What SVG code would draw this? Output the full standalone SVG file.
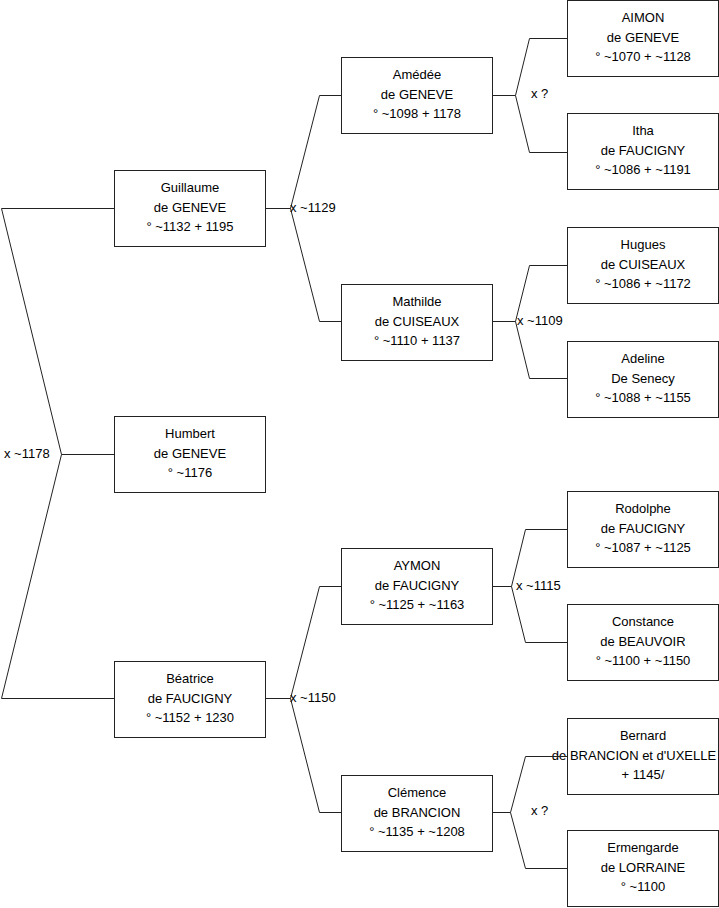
<svg xmlns="http://www.w3.org/2000/svg" width="719" height="908" viewBox="0 0 719 908">
<style>
.box{fill:#fff;stroke:#222;stroke-width:1}
.ln{fill:none;stroke:#222;stroke-width:1}
text{font-family:"Liberation Sans",Arial,sans-serif;font-size:13px;fill:#000}
.c{text-anchor:middle}
</style>
<rect width="719" height="908" fill="#fff"/>
<g id="connectors">
<path class="ln" d="M114.5,208.5H1.5L61.5,454.5L1.5,698.5H114.5M61.5,454.5H114.5"/>
<path class="ln" d="M265.5,208.5H290.5M341.5,95.5H319.5L290.5,208.5L319.5,321.5H341.5"/>
<path class="ln" d="M265.5,698.5H290.5M341.5,586.5H319.5L290.5,698.5L319.5,812.5H341.5"/>
<path class="ln" d="M492.5,95.5H515.5M567.5,38.5H529.5L515.5,95.5L529.5,152.5H567.5"/>
<path class="ln" d="M492.5,321.5H515.5M567.5,265.5H529.5L515.5,321.5L529.5,378.5H567.5"/>
<path class="ln" d="M492.5,586.5H511.5M567.5,529.5H525.5L511.5,586.5L525.5,642.5H567.5"/>
<path class="ln" d="M492.5,812.5H510.5M567.5,756.5H525.5L510.5,812.5L525.5,868.5H567.5"/>
<text x="4" y="458">x ~1178</text>
<text x="290" y="212">x ~1129</text>
<text x="290" y="702">x ~1150</text>
<text x="531" y="98">x ?</text>
<text x="517" y="325">x ~1109</text>
<text x="516" y="590">x ~1115</text>
<text x="531" y="815">x ?</text>
</g>
<g id="guillaume"><rect class="box" x="114.5" y="170.5" width="151" height="76"/><text class="c" x="190" y="192">Guillaume</text><text class="c" x="190" y="212">de GENEVE</text><text class="c" x="190" y="231">° ~1132 + 1195</text></g>
<g id="humbert"><rect class="box" x="114.5" y="416.5" width="151" height="76"/><text class="c" x="190" y="438">Humbert</text><text class="c" x="190" y="458">de GENEVE</text><text class="c" x="190" y="477">° ~1176</text></g>
<g id="beatrice"><rect class="box" x="114.5" y="661.5" width="151" height="76"/><text class="c" x="190" y="683">Béatrice</text><text class="c" x="190" y="703">de FAUCIGNY</text><text class="c" x="190" y="722">° ~1152 + 1230</text></g>
<g id="amedee"><rect class="box" x="341.5" y="57.5" width="151" height="76"/><text class="c" x="417" y="79">Amédée</text><text class="c" x="417" y="99">de GENEVE</text><text class="c" x="417" y="118">° ~1098 + 1178</text></g>
<g id="mathilde"><rect class="box" x="341.5" y="284.5" width="151" height="76"/><text class="c" x="417" y="306">Mathilde</text><text class="c" x="417" y="326">de CUISEAUX</text><text class="c" x="417" y="345">° ~1110 + 1137</text></g>
<g id="aymon"><rect class="box" x="341.5" y="548.5" width="151" height="76"/><text class="c" x="417" y="570">AYMON</text><text class="c" x="417" y="590">de FAUCIGNY</text><text class="c" x="417" y="609">° ~1125 + ~1163</text></g>
<g id="clemence"><rect class="box" x="341.5" y="775.5" width="151" height="76"/><text class="c" x="417" y="797">Clémence</text><text class="c" x="417" y="817">de BRANCION</text><text class="c" x="417" y="836">° ~1135 + ~1208</text></g>
<g id="aimon"><rect class="box" x="567.5" y="0.5" width="151" height="76"/><text class="c" x="643" y="22">AIMON</text><text class="c" x="643" y="42">de GENEVE</text><text class="c" x="643" y="61">° ~1070 + ~1128</text></g>
<g id="itha"><rect class="box" x="567.5" y="113.5" width="151" height="76"/><text class="c" x="643" y="135">Itha</text><text class="c" x="643" y="155">de FAUCIGNY</text><text class="c" x="643" y="174">° ~1086 + ~1191</text></g>
<g id="hugues"><rect class="box" x="567.5" y="227.5" width="151" height="76"/><text class="c" x="643" y="249">Hugues</text><text class="c" x="643" y="269">de CUISEAUX</text><text class="c" x="643" y="288">° ~1086 + ~1172</text></g>
<g id="adeline"><rect class="box" x="567.5" y="341.5" width="151" height="76"/><text class="c" x="643" y="363">Adeline</text><text class="c" x="643" y="383">De Senecy</text><text class="c" x="643" y="402">° ~1088 + ~1155</text></g>
<g id="rodolphe"><rect class="box" x="567.5" y="491.5" width="151" height="76"/><text class="c" x="643" y="513">Rodolphe</text><text class="c" x="643" y="533">de FAUCIGNY</text><text class="c" x="643" y="552">° ~1087 + ~1125</text></g>
<g id="constance"><rect class="box" x="567.5" y="604.5" width="151" height="76"/><text class="c" x="643" y="626">Constance</text><text class="c" x="643" y="646">de BEAUVOIR</text><text class="c" x="643" y="665">° ~1100 + ~1150</text></g>
<g id="bernard"><rect class="box" x="567.5" y="718.5" width="151" height="76"/><text class="c" x="643" y="740">Bernard</text><text class="c" x="634" y="760">de BRANCION et d'UXELLE</text><text class="c" x="643" y="779">+ 1145/</text></g>
<g id="ermengarde"><rect class="box" x="567.5" y="830.5" width="151" height="76"/><text class="c" x="643" y="852">Ermengarde</text><text class="c" x="643" y="872">de LORRAINE</text><text class="c" x="643" y="891">° ~1100</text></g>
<path class="ln" d="M567.5,756.5H551"/>
</svg>
